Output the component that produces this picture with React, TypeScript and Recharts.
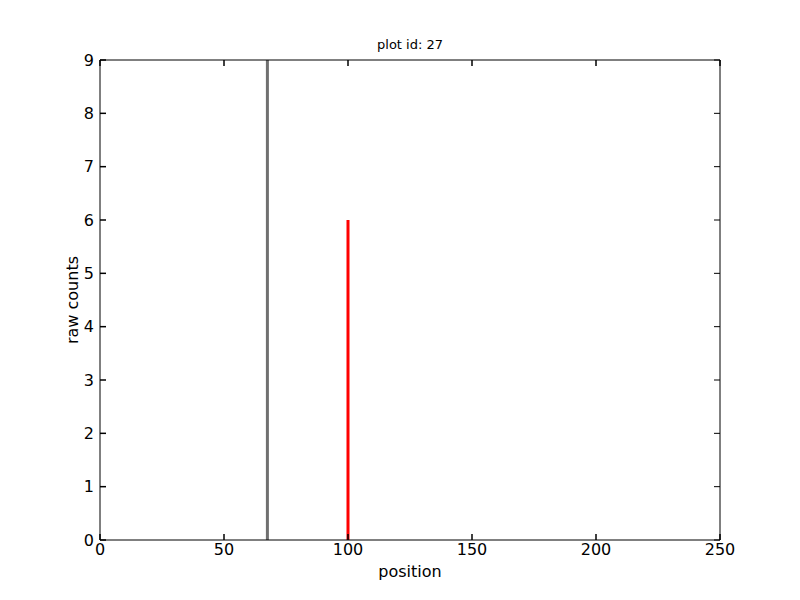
import React from 'react';
import { LineChart, Line, XAxis, YAxis } from 'recharts';

const X_TICKS = [0, 50, 100, 150, 200, 250];
const Y_TICKS = [0, 1, 2, 3, 4, 5, 6, 7, 8, 9];

// each peak: position and raw count
const GRAY_PEAK = [
  { x: 67.5, y: 0 },
  { x: 67.5, y: 9 },
];
const RED_PEAK = [
  { x: 100, y: 0 },
  { x: 100, y: 6 },
];

const FONT = 'DejaVu Sans, sans-serif';
const WIDTH = 800;
const HEIGHT = 600;
const MARGIN = { top: 60, right: 80, bottom: 0, left: 44 };
const X_AXIS_H = 60;
const PLOT_H = HEIGHT - MARGIN.top - MARGIN.bottom - X_AXIS_H;
const TICK_LEN = 6;
const X_MARGIN = 4;
const Y_MARGIN = 6;

// label + inward tick marks (bottom and top of the frame)
const BottomTick = (props: any) => {
  const { x, y, payload } = props;
  const axisY = y - X_MARGIN;
  const topY = axisY - PLOT_H;
  return (
    <g>
      <path d={`M${x},${axisY}V${axisY - TICK_LEN}`} stroke="#000" strokeWidth={1.5} fill="none" />
      <path d={`M${x},${topY}V${topY + TICK_LEN}`} stroke="#000" strokeWidth={1.5} fill="none" />
      <text x={x} y={y} dy="0.71em" textAnchor="middle" fontSize={16} fill="#000" fontFamily={FONT}>
        {payload.value}
      </text>
    </g>
  );
};

// label + inward tick mark for the left axis
const LeftTick = (props: any) => {
  const { x, y, payload } = props;
  const axisX = x + Y_MARGIN;
  return (
    <g>
      <path d={`M${axisX},${y}H${axisX + TICK_LEN}`} stroke="#000" strokeWidth={1.5} fill="none" />
      <text x={x} y={y} dy="0.355em" textAnchor="end" fontSize={16} fill="#000" fontFamily={FONT}>
        {payload.value}
      </text>
    </g>
  );
};

const NoLabel = () => <g />;

const App: React.FC = () => {
  return (
    <div style={{ position: 'absolute', left: 0, top: 0, width: WIDTH, height: HEIGHT, background: '#fff' }}>
      <div
        style={{
          position: 'absolute',
          left: 100,
          top: 37,
          width: 620,
          textAlign: 'center',
          fontFamily: FONT,
          fontSize: 13,
          lineHeight: '15px',
          color: '#000',
        }}
      >
        plot id: 27
      </div>
      <LineChart width={WIDTH} height={HEIGHT} margin={MARGIN}>
        <XAxis
          xAxisId="x"
          dataKey="x"
          type="number"
          domain={[0, 250]}
          ticks={X_TICKS}
          allowDataOverflow
          height={X_AXIS_H}
          tickLine={false}
          tickSize={0}
          tickMargin={X_MARGIN}
          tick={BottomTick}
          axisLine={{ stroke: '#000', strokeWidth: 1 }}
          label={{ value: 'position', position: 'insideBottom', offset: 23, style: { fontSize: 16, fill: '#000', fontFamily: FONT } }}
        />
        <YAxis
          yAxisId="y"
          type="number"
          domain={[0, 9]}
          ticks={Y_TICKS}
          allowDataOverflow
          width={56}
          tickLine={false}
          tickSize={0}
          tickMargin={Y_MARGIN}
          tick={LeftTick}
          axisLine={{ stroke: '#000', strokeWidth: 1 }}
          label={{ value: 'raw counts', angle: -90, position: 'center', style: { fontSize: 16, fill: '#000', fontFamily: FONT, textAnchor: 'middle' } }}
        />
        {/* rest of the frame */}
        <XAxis xAxisId="xt" type="number" domain={[0, 250]} allowDataOverflow ticks={X_TICKS} orientation="top" mirror tick={NoLabel} tickLine={false} axisLine={{ stroke: '#000' }} />
        <YAxis yAxisId="yr" type="number" domain={[0, 9]} allowDataOverflow ticks={Y_TICKS} orientation="right" mirror tick={NoLabel} tickSize={TICK_LEN} tickLine={{ stroke: '#000' }} axisLine={{ stroke: '#000' }} />

        <Line xAxisId="x" yAxisId="y" data={GRAY_PEAK} dataKey="y" stroke="#707070" strokeWidth={3} dot={false} isAnimationActive={false} />
        <Line xAxisId="x" yAxisId="y" data={RED_PEAK} dataKey="y" stroke="#ff0000" strokeWidth={3} dot={false} isAnimationActive={false} />
      </LineChart>
    </div>
  );
};

export default App;
